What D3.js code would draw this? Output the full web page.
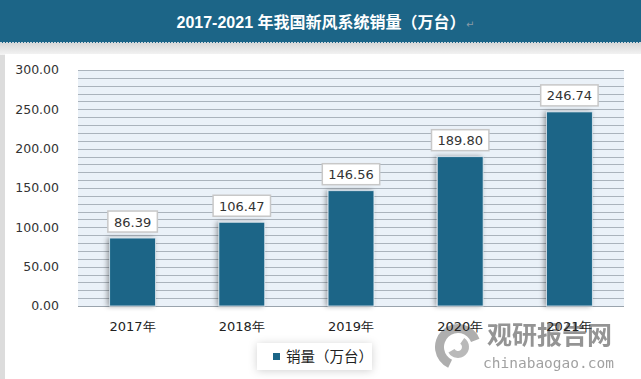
<!DOCTYPE html>
<html>
<head>
<meta charset="utf-8">
<script src="https://cdn.jsdelivr.net/npm/d3@7"></script>
<style>
  body { margin: 0; background: #e6e6e6; }
  svg { display: block; }
</style>
</head>
<body>
<div id="chart"></div>
<script>
const years = ["2017年", "2018年", "2019年", "2020年", "2021年"];
const sales = [86.39, 106.47, 146.56, 189.80, 246.74];
const yTicks = [0, 50, 100, 150, 200, 250, 300];
const titleText = "2017-2021 年我国新风系统销量（万台）";
const legendText = "销量（万台）";

const width = 641, height = 379;
const margin = { left: 78, right: 17, top: 70, bottom: 73 };
const barColor = "#1b6587";

const svg = d3.select("#chart")
    .append("svg")
        .attr("width", width)
        .attr("height", height)
        .style("font-family", "'DejaVu Sans', sans-serif");

const defs = svg.append("defs");
const shadow = defs.append("filter").attr("id", "shadow")
    .attr("x", "-30%").attr("y", "-30%").attr("width", "160%").attr("height", "160%");
shadow.append("feDropShadow")
    .attr("dx", -2).attr("dy", 0).attr("stdDeviation", 2.5)
    .attr("flood-color", "#000").attr("flood-opacity", 0.35);
const softShadow = defs.append("filter").attr("id", "soft")
    .attr("x", "-30%").attr("y", "-50%").attr("width", "160%").attr("height", "200%");
softShadow.append("feDropShadow")
    .attr("dx", 0).attr("dy", 1).attr("stdDeviation", 4)
    .attr("flood-color", "#000").attr("flood-opacity", 0.18);
const topGrad = defs.append("linearGradient").attr("id", "topgrad")
    .attr("x1", 0).attr("y1", 0).attr("x2", 0).attr("y2", 1);
topGrad.append("stop").attr("offset", 0).attr("stop-color", "#d8d8d8");
topGrad.append("stop").attr("offset", 1).attr("stop-color", "#f4f4f4");

// background panel
svg.append("rect").attr("x", 0).attr("y", 0).attr("width", width).attr("height", height).attr("fill", "#dcdcdc");
svg.append("rect").attr("x", 0).attr("y", 43).attr("width", width).attr("height", 12).attr("fill", "url(#topgrad)");
svg.append("rect").attr("x", 5).attr("y", 54).attr("width", width - 5).attr("height", height - 54).attr("fill", "#fff");

// title bar
svg.append("rect").attr("x", 0).attr("y", 0).attr("width", width).attr("height", 43).attr("fill", "#1c6587");
svg.append("line").attr("x1", 0).attr("x2", width).attr("y1", 42.5).attr("y2", 42.5)
    .attr("stroke", "#cfd8de").attr("stroke-dasharray", "2,1");
svg.append("text")
    .attr("x", 321).attr("y", 28)
    .attr("text-anchor", "middle")
    .attr("fill", "#fff")
    .style("font-family", "'Liberation Sans', 'Noto Sans CJK SC', sans-serif")
    .style("font-size", "16px")
    .style("font-weight", "bold")
    .text(titleText);
svg.append("text").attr("x", 466).attr("y", 28).attr("fill", "#8a9aa6")
    .style("font-size", "10px").text("↵");

// watermark (under the axis labels)
const wm = svg.append("g").attr("opacity", 0.8);
wm.append("path")
    .attr("d", d3.arc()({ innerRadius: 14, outerRadius: 23, startAngle: -2.7, endAngle: 1.2 }))
    .attr("transform", "translate(458, 347)")
    .attr("fill", "#9a9a9a");
wm.append("path")
    .attr("d", d3.arc()({ innerRadius: 4, outerRadius: 11, startAngle: 0.6, endAngle: 4.2 }))
    .attr("transform", "translate(458, 347)")
    .attr("fill", "#a8a8a8");
wm.append("text").attr("x", 487).attr("y", 344)
    .attr("fill", "#7a7a7a")
    .style("font-size", "25px").style("font-weight", "bold")
    .style("font-family", "'Noto Sans CJK SC', sans-serif")
    .text("观研报告网");
wm.append("text").attr("x", 483).attr("y", 368)
    .attr("fill", "#8a8a8a")
    .style("font-size", "14.5px")
    .style("font-family", "'DejaVu Sans Mono', monospace")
    .text("chinabaogao.com");

const innerWidth = width - margin.left - margin.right;
const innerHeight = height - margin.top - margin.bottom;

const x = d3.scaleBand().domain(years).range([0, innerWidth]).paddingInner(0.58).paddingOuter(0.29);
const y = d3.scaleLinear().domain([0, 300]).range([innerHeight, 0]);

const g = svg.append("g").attr("transform", `translate(${margin.left}, ${margin.top})`);

g.append("rect").attr("width", innerWidth).attr("height", innerHeight).attr("fill", "#eaf1f8");

g.selectAll(".grid")
    .data(d3.range(10, 301, 10))
    .join("line")
        .attr("class", "grid")
        .attr("x1", 0).attr("x2", innerWidth)
        .attr("y1", d => Math.round(y(d)) + 0.5)
        .attr("y2", d => Math.round(y(d)) + 0.5)
        .attr("stroke", "#aab3bc")
        .attr("stroke-width", 1);

g.append("line").attr("x1", 0).attr("x2", innerWidth)
    .attr("y1", innerHeight + 0.5).attr("y2", innerHeight + 0.5)
    .attr("stroke", "#9aa4ad");

// y axis labels
g.selectAll(".ytick")
    .data(yTicks)
    .join("text")
        .attr("class", "ytick")
        .attr("x", -19)
        .attr("y", d => y(d))
        .attr("dy", "0.35em")
        .attr("text-anchor", "end")
        .attr("fill", "#333")
        .style("font-size", "12.5px")
        .text(d => d3.format(".2f")(d));

// bars
g.selectAll(".bar")
    .data(sales)
    .join("rect")
        .attr("class", "bar")
        .attr("x", (d, i) => x(years[i]))
        .attr("y", d => y(d))
        .attr("width", x.bandwidth())
        .attr("height", d => innerHeight - y(d))
        .attr("fill", barColor)
        .attr("stroke", "#dfe8ef")
        .attr("stroke-width", 0.8)
        .attr("filter", "url(#shadow)");

// value labels
const labels = g.selectAll(".lbl")
    .data(sales)
    .join("g")
        .attr("class", "lbl")
        .attr("transform", (d, i) => `translate(${x(years[i]) + x.bandwidth() / 2}, ${y(d) - 16})`);
labels.append("rect")
    .attr("x", d => -(d3.format(".2f")(d).length * 3.95 + 5))
    .attr("y", -11)
    .attr("width", d => d3.format(".2f")(d).length * 7.9 + 10)
    .attr("height", 21)
    .attr("fill", "#fff")
    .attr("stroke", "#c8c8c8")
    .attr("stroke-width", 1.5);
labels.append("text")
    .attr("text-anchor", "middle")
    .attr("dy", "0.35em")
    .attr("fill", "#333")
    .style("font-size", "13px")
    .text(d => d3.format(".2f")(d));

// x axis labels
g.selectAll(".xtick")
    .data(years)
    .join("text")
        .attr("class", "xtick")
        .attr("x", d => x(d) + x.bandwidth() / 2)
        .attr("y", innerHeight + 20)
        .attr("dy", "0.35em")
        .attr("text-anchor", "middle")
        .attr("fill", "#222")
        .style("font-size", "13px")
        .text(d => d);

// legend
const legend = svg.append("g").attr("transform", "translate(257, 343)");
legend.append("rect").attr("width", 115).attr("height", 27).attr("fill", "#fff").attr("filter", "url(#soft)");
legend.append("rect").attr("x", 16).attr("y", 10).attr("width", 7).attr("height", 7).attr("fill", barColor);
legend.append("text").attr("x", 29).attr("y", 14).attr("dy", "0.35em")
    .attr("fill", "#222")
    .style("font-size", "14.5px")
    .style("font-family", "'Noto Sans CJK SC', sans-serif")
    .text(legendText);
</script>
</body>
</html>
